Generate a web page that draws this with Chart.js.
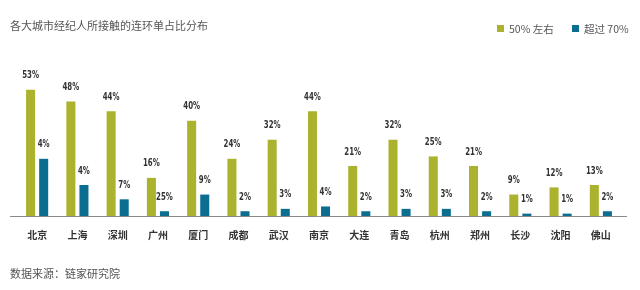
<!DOCTYPE html>
<html>
<head>
<meta charset="utf-8">
<script src="https://cdn.jsdelivr.net/npm/chart.js@4.4.1/dist/chart.umd.min.js"></script>
<style>
  body { margin: 0; background: #fff; }
  #wrap { position: relative; width: 640px; height: 290px; font-family: "Noto Sans CJK SC", sans-serif; color: #555; }
  #chart { position: absolute; left: 0; top: 0; }
  .title { position: absolute; left: 10px; top: 17px; font-size: 11px; }
  .source { position: absolute; left: 10px; top: 265px; font-size: 11px; }
  .legend { position: absolute; top: 22px; font-size: 10.5px; line-height: 14px; }
  .legend span { display: inline-block; width: 7px; height: 7px; margin-right: 5px; vertical-align: 1px; }
</style>
</head>
<body>
<div id="wrap">
  <canvas id="chart" width="640" height="290"></canvas>
  <div class="title">各大城市经纪人所接触的连环单占比分布</div>
  <div class="legend" style="left:497px"><span style="background:#aab22e"></span>50% 左右</div>
  <div class="legend" style="left:572px"><span style="background:#0b6e90"></span>超过 70%</div>
  <div class="source">数据来源：链家研究院</div>
</div>
<script>
const cities = ['北京', '上海', '深圳', '广州', '厦门', '成都', '武汉', '南京', '大连', '青岛', '杭州', '郑州', '长沙', '沈阳', '佛山'];
const about50 = [53, 48, 44, 16, 40, 24, 32, 44, 21, 32, 25, 21, 9, 12, 13];
const over70 = [24, 13, 7, 2, 9, 2, 3, 4, 2, 3, 3, 2, 1, 1, 2];
// labels as printed in the original picture
const about50Text = ['53%', '48%', '44%', '16%', '40%', '24%', '32%', '44%', '21%', '32%', '25%', '21%', '9%', '12%', '13%'];
const over70Text = ['4%', '4%', '7%', '25%', '9%', '2%', '3%', '4%', '2%', '3%', '3%', '2%', '1%', '1%', '2%'];

const labelPlugin = {
  id: 'barLabels',
  afterDatasetsDraw(chart) {
    const ctx = chart.ctx;
    const texts = [about50Text, over70Text];
    ctx.save();
    ctx.fillStyle = '#333';
    ctx.font = 'bold 10px "DejaVu Sans Condensed", "Liberation Sans Narrow", sans-serif';
    ctx.textAlign = 'center';
    ctx.textBaseline = 'bottom';
    chart.data.datasets.forEach((ds, i) => {
      chart.getDatasetMeta(i).data.forEach((bar, j) => {
        // squeeze horizontally to get the condensed look
        ctx.save();
        ctx.translate(bar.x, bar.y - 9);
        ctx.scale(0.78, 1);
        ctx.fillText(texts[i][j], 0, 0);
        ctx.restore();
      });
    });
    // baseline
    const y = chart.scales.y.getPixelForValue(0);
    ctx.strokeStyle = '#8a8a8a';
    ctx.lineWidth = 1;
    ctx.beginPath();
    ctx.moveTo(10, Math.round(y) + 0.5);
    ctx.lineTo(627, Math.round(y) + 0.5);
    ctx.stroke();
    ctx.restore();
  }
};

new Chart(document.getElementById('chart'), {
  type: 'bar',
  data: {
    labels: cities,
    datasets: [
      { label: '50% 左右', data: about50, backgroundColor: '#aab22e' },
      { label: '超过 70%', data: over70, backgroundColor: '#0b6e90' }
    ]
  },
  options: {
    responsive: false,
    animation: false,
    layout: { padding: { left: 17, right: 19, top: 73, bottom: 44 } },
    datasets: { bar: { categoryPercentage: 0.65, barPercentage: 0.69 } },
    plugins: { legend: { display: false }, tooltip: { enabled: false } },
    scales: {
      x: {
        grid: { display: false },
        border: { display: false },
        ticks: { color: '#333', padding: 5, font: { size: 10, weight: 'bold', family: '"Noto Sans CJK SC", sans-serif' } }
      },
      y: { display: false, min: 0, max: 60 }
    }
  },
  plugins: [labelPlugin]
});
</script>
</body>
</html>
